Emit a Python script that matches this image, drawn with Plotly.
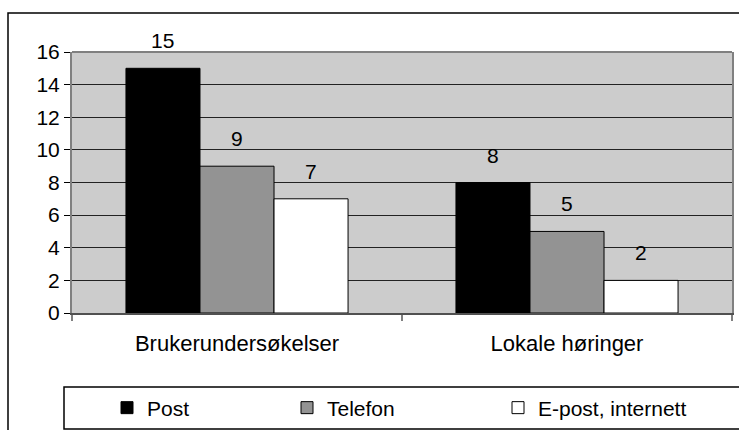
import plotly.graph_objects as go

categories = ["Brukerundersøkelser", "Lokale høringer"]
series_names = ["Post", "Telefon", "E-post, internett"]
post = [15, 8]
telefon = [9, 5]
epost = [7, 2]
y_ticks = [0, 2, 4, 6, 8, 10, 12, 14, 16]

values = [post, telefon, epost]
colors = ["#000000", "#939393", "#FFFFFF"]
legend_ids = ["legend", "legend2", "legend3"]

W, H = 739, 430
L, R, T, B = 72, 7, 52, 117
pw, ph = W - L - R, H - T - B

def px_x(p):
    return (p - L) / pw

def px_y(p):
    return (H - B - p) / ph

FONT = "Liberation Sans, Arial, sans-serif"
FS = 21
XFS = 22
LFS = 21
bargap = 0.327

fig = go.Figure()
for name, vals, col, lg in zip(series_names, values, colors, legend_ids):
    fig.add_trace(go.Bar(
        x=categories, y=vals, name=name, marker=dict(color=col, line=dict(color="#000000", width=1)),
        legend=lg, hoverinfo="x+y+name",
    ))

bw = (1 - bargap) / 3
for j, vals in enumerate(values):
    for i, v in enumerate(vals):
        fig.add_annotation(x=i + (j - 1) * bw, y=v, xref="x", yref="y", text=str(v),
                           showarrow=False, yanchor="bottom", yshift=14,
                           font=dict(family=FONT, size=FS, color="#000000"))

shapes = [
    dict(type="rect", xref="paper", yref="paper", x0=px_x(8), x1=px_x(760), y0=px_y(13), y1=px_y(460),
         line=dict(color="#000000", width=1.5), layer="below"),
    dict(type="rect", xref="paper", yref="paper", x0=px_x(64), x1=px_x(760), y0=px_y(387), y1=px_y(429),
         line=dict(color="#000000", width=1.5), layer="below"),
    dict(type="line", xref="paper", yref="paper", x0=0, x1=1, y0=1, y1=1,
         line=dict(color="#808080", width=2)),
]

leg_y = px_y(408)
leg_common = dict(orientation="h", yanchor="middle", xanchor="left", y=leg_y,
                  bgcolor="rgba(0,0,0,0)", borderwidth=0,
                  font=dict(family=FONT, size=LFS, color="#000000"))

fig.update_layout(
    width=W, height=H,
    margin=dict(l=L, r=R, t=T, b=B, autoexpand=False),
    paper_bgcolor="#FFFFFF",
    plot_bgcolor="#CCCCCC",
    barmode="group",
    bargap=bargap,
    bargroupgap=0,
    font=dict(family=FONT, size=FS, color="#000000"),
    showlegend=True,
    legend=dict(x=px_x(107), **leg_common),
    legend2=dict(x=px_x(287), **leg_common),
    legend3=dict(x=px_x(498), **leg_common),
    shapes=shapes,
    xaxis=dict(
        type="category", showline=True, linecolor="#505050", linewidth=1.5,
        ticks="outside", tickson="boundaries", ticklen=6, tickcolor="#808080", tickwidth=1.5,
        showgrid=False, tickfont=dict(family=FONT, size=XFS), ticklabelstandoff=10,
    ),
    yaxis=dict(
        range=[0, 16], tickvals=y_ticks, ticktext=[str(t) for t in y_ticks],
        showline=True, linecolor="#808080", linewidth=2, mirror=True,
        ticks="outside", ticklen=6, tickcolor="#000000",
        showgrid=True, gridcolor="#222222", gridwidth=1, zeroline=False,
        tickfont=dict(family=FONT, size=FS),
    ),
)

fig.write_html("out.html", config={"displayModeBar": False},
               post_script="document.body.style.margin='0';document.body.style.overflow='hidden';")
